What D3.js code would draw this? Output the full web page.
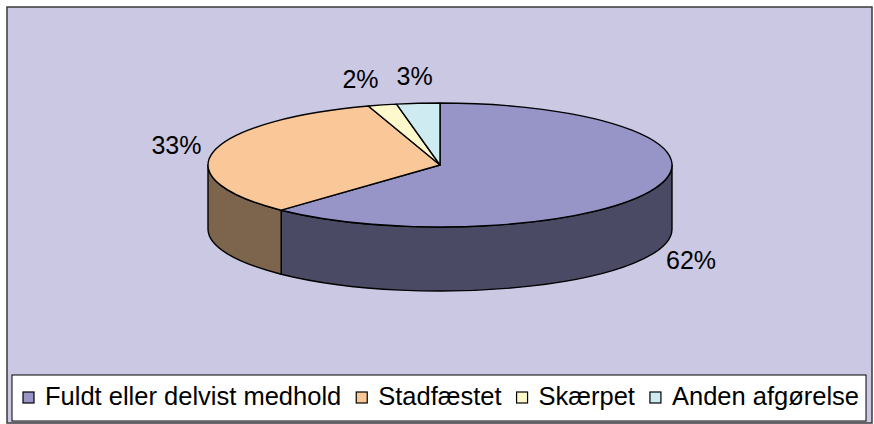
<!DOCTYPE html>
<html>
<head>
<meta charset="utf-8">
<script src="https://cdn.jsdelivr.net/npm/d3@7"></script>
<style>
  body { margin: 0; background: #ffffff; }
  text { font-family: "Liberation Sans", Arial, sans-serif; }
</style>
</head>
<body>
<div id="chart"></div>
<script>
// data
var categories = ["Fuldt eller delvist medhold", "Stadfæstet", "Skærpet", "Anden afgørelse"];
var values = [62, 33, 2, 3];
var colors = ["#9795c8", "#fac898", "#fef9cd", "#cdebf0"];

var width = 874, height = 424;

var svg = d3.select("#chart")
    .append("svg")
    .attr("width", width)
    .attr("height", height);

// chart area
svg.append("rect")
    .attr("x", 7).attr("y", 7)
    .attr("width", 865).attr("height", 416)
    .style("fill", "#cbc8e4")
    .style("stroke", "#3a3a3a")
    .style("stroke-width", 1.5);

// pie geometry (ellipse seen from above at an angle)
var cx = 440, cy = 165, rx = 232, ry = 62, depth = 64;

function pt(a, dy) {
    return [cx + rx * Math.sin(a), cy - ry * Math.cos(a) + (dy || 0)];
}

var pie = d3.pie().sort(null).value(function (d) { return d; });
var arcs = pie(values);

function topPath(d) {
    var p0 = pt(d.startAngle), p1 = pt(d.endAngle);
    var large = (d.endAngle - d.startAngle) > Math.PI ? 1 : 0;
    return "M" + cx + "," + cy + "L" + p0 + "A" + rx + "," + ry + " 0 " + large + " 1 " + p1 + "Z";
}

function wallPath(a0, a1) {
    var p0 = pt(a0), p1 = pt(a1), p1b = pt(a1, depth), p0b = pt(a0, depth);
    return "M" + p0 + "A" + rx + "," + ry + " 0 0 1 " + p1 +
        "L" + p1b + "A" + rx + "," + ry + " 0 0 0 " + p0b + "Z";
}

// front walls: only the part between 90 and 270 degrees can be seen
var walls = arcs.map(function (d, i) {
    return { a0: Math.max(d.startAngle, Math.PI / 2), a1: Math.min(d.endAngle, 3 * Math.PI / 2), i: i };
}).filter(function (w) { return w.a1 > w.a0; });

svg.selectAll("path.wall")
    .data(walls)
    .enter()
    .append("path")
    .attr("class", "wall")
    .attr("d", function (w) { return wallPath(w.a0, w.a1); })
    .style("fill", function (w) { return d3.color(colors[w.i]).darker(1.95); })
    .style("stroke", "#000")
    .style("stroke-width", 1.4)
    .style("stroke-linejoin", "round");

svg.selectAll("path.top")
    .data(arcs)
    .enter()
    .append("path")
    .attr("class", "top")
    .attr("d", topPath)
    .style("fill", function (d, i) { return colors[i]; })
    .style("stroke", "#000")
    .style("stroke-width", 1.4)
    .style("stroke-linejoin", "round");

// percentage labels outside the slices
var total = d3.sum(values);
var lbl = svg.selectAll("text.lbl")
    .data(arcs)
    .enter()
    .append("text")
    .attr("class", "lbl")
    .attr("x", function (d) {
        var a = (d.startAngle + d.endAngle) / 2;
        return cx + (rx + 38) * Math.sin(a);
    })
    .attr("y", function (d) {
        var a = (d.startAngle + d.endAngle) / 2;
        var y = cy - (ry + 26) * Math.cos(a);
        if (Math.cos(a) < 0) y += depth;
        return y + 8;
    })
    .attr("text-anchor", "middle")
    .style("font-size", "25px")
    .style("fill", "#000")
    .text(function (d) { return Math.round(d.value / total * 100) + "%"; });

// push small labels apart when they crowd each other
var nodes = lbl.nodes();
for (var k = nodes.length - 2; k >= 0; k--) {
    var b0 = nodes[k].getBBox(), b1 = nodes[k + 1].getBBox();
    if (Math.abs(b0.y - b1.y) < b0.height && b0.x < b1.x) {
        var gap = b1.x - (b0.x + b0.width);
        if (gap < 18) {
            nodes[k].setAttribute("x", +nodes[k].getAttribute("x") - (18 - gap));
        }
    }
}

// legend
var legend = svg.append("g");
legend.append("rect")
    .attr("x", 12).attr("y", 375)
    .attr("width", 854).attr("height", 46)
    .style("fill", "#fff")
    .style("stroke", "#000")
    .style("stroke-width", 1);

var lx = 23;
for (var i = 0; i < categories.length; i++) {
    legend.append("rect")
        .attr("x", lx).attr("y", 392)
        .attr("width", 11).attr("height", 11)
        .style("fill", colors[i])
        .style("stroke", "#000")
        .style("stroke-width", 1.2);
    var t = legend.append("text")
        .attr("x", lx + 22).attr("y", 405)
        .style("font-size", "25.5px")
        .style("fill", "#000")
        .text(categories[i]);
    lx = lx + 22 + t.node().getComputedTextLength() + 15;
}
</script>
</body>
</html>
